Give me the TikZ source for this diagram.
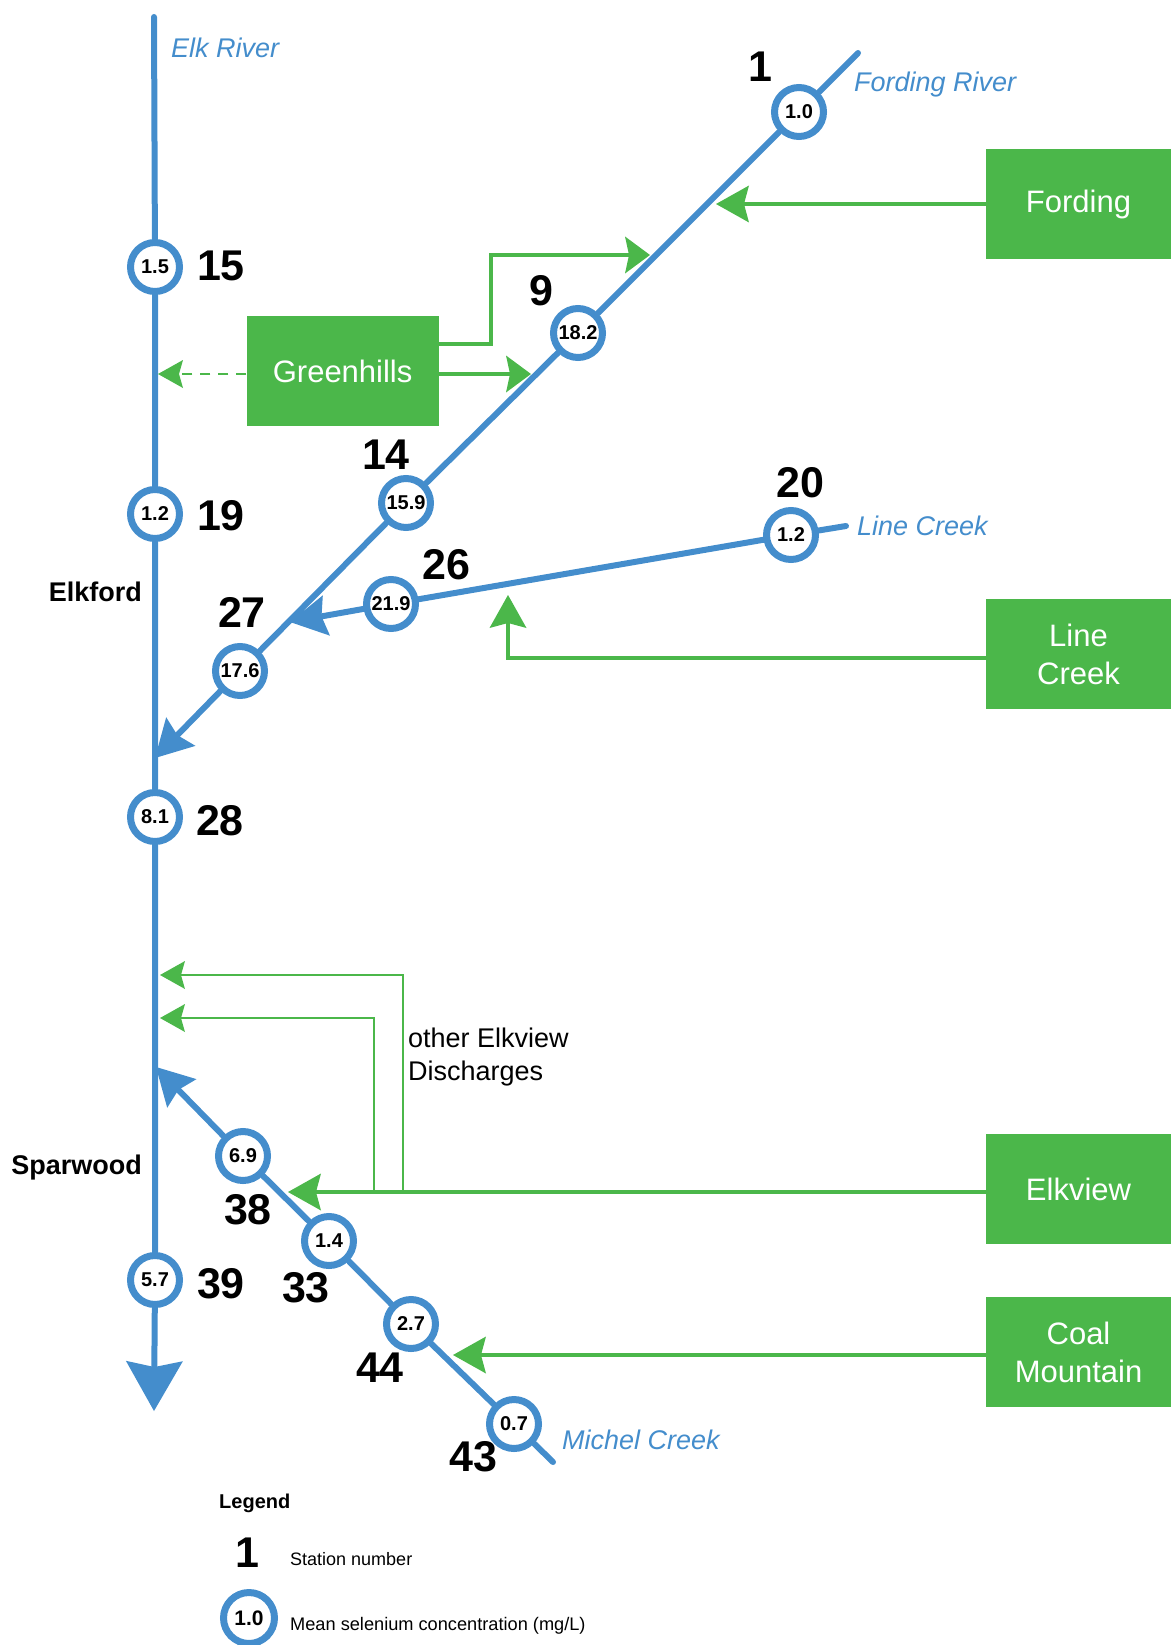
\documentclass[tikz,border=0pt]{standalone}
\usepackage{fontspec}
\setmainfont{Liberation Sans}
\usetikzlibrary{arrows.meta}
\definecolor{riverblue}{RGB}{68,141,204}
\definecolor{minegreen}{RGB}{75,183,74}
\tikzset{
  river/.style={draw=riverblue, line width=6pt, line cap=round},
  flow/.style={river, -{Stealth[length=37pt, width=41pt, inset=5pt, line width=0pt]}},
  mainflow/.style={river, -{Stealth[length=50pt, width=57pt, inset=6pt, line width=0pt]}},
  station/.style={circle, draw=riverblue, line width=7pt, fill=white, minimum size=49pt, inner sep=0pt, font=\fontsize{20}{20}\selectfont\bfseries},
  stnum/.style={inner sep=0pt, font=\fontsize{43}{43}\selectfont\bfseries},
  rivername/.style={anchor=base west, inner sep=0pt, text=riverblue, font=\fontsize{27}{27}\selectfont\itshape},
  town/.style={anchor=base east, inner sep=0pt, font=\fontsize{27}{27}\selectfont\bfseries},
  minebox/.style={fill=minegreen, text=white, minimum width=185pt, minimum height=110pt, align=center, font=\fontsize{31}{38}\selectfont},
  discharge/.style={draw=minegreen, line width=4.5pt, -{Stealth[length=33pt, width=37pt, inset=5pt, line width=0pt]}},
  ghdis/.style={draw=minegreen, line width=4.5pt, -{Stealth[length=25pt, width=37pt, inset=4pt, line width=0pt]}},
  thindis/.style={draw=minegreen, line width=2.7pt, -{Stealth[length=25pt, width=28pt, inset=4pt, line width=0pt]}},
  dashdis/.style={thindis, dash pattern=on 10pt off 8pt}
}
\begin{document}
\begin{tikzpicture}[x=1pt, y=-1pt]
\useasboundingbox (0,0) rectangle (1171,1645);

% Elk River stations
\node[station] (s15) at (155,267) {1.5};
\node[station] (s19) at (155,514) {1.2};
\node[station] (s28) at (155,817) {8.1};
\node[station] (s39) at (155,1280) {5.7};
\coordinate (elktop) at (154,17);
\coordinate (elkend) at (154,1411);
\coordinate (fordmouth) at (155,758);
\coordinate (michmouth) at (156,1067);

% Fording River stations
\node[station] (s1) at (799,112) {1.0};
\node[station] (s9) at (578,333) {18.2};
\node[station] (s14) at (406,503) {15.9};
\node[station] (s27) at (240,671) {17.6};
\coordinate (fordtop) at (858,53);

% Line Creek stations
\node[station] (s20) at (791,535) {1.2};
\node[station] (s26) at (391,604) {21.9};
\coordinate (linetop) at (846,526);
\coordinate (linemouth) at (290,622);

% Michel Creek stations
\node[station] (s43) at (514,1424) {0.7};
\node[station] (s44) at (411,1324) {2.7};
\node[station] (s33) at (329,1241) {1.4};
\node[station] (s38) at (243,1156) {6.9};
\coordinate (michtop) at (553,1462);

% rivers
\draw[river] (elktop) -- (s15) -- (s19) -- (s28) -- (s39);
\draw[mainflow] (s39) -- (elkend);
\draw[river] (fordtop) -- (s1) -- (s9) -- (s14) -- (s27);
\draw[flow] (s27) -- (fordmouth);
\draw[river] (linetop) -- (s20);
\draw[river] (s20) -- (s26);
\draw[flow] (s26) -- (linemouth);
\draw[river] (michtop) -- (s43) -- (s44) -- (s33) -- (s38);
\draw[flow] (s38) -- (michmouth);

% station numbers
\node[stnum] (n15) at (221,266) {15};
\node[stnum] (n19) at (221,516) {19};
\node[stnum] (n28) at (220,821) {28};
\node[stnum] (n39) at (221,1284) {39};
\node[stnum] (n1) at (760,67) {1};
\node[stnum] (n9) at (541,291) {9};
\node[stnum] (n14) at (386,455) {14};
\node[stnum] (n27) at (242,612) {27};
\node[stnum] (n20) at (800,483) {20};
\node[stnum] (n26) at (446,565) {26};
\node[stnum] (n38) at (248,1210) {38};
\node[stnum] (n33) at (306,1288) {33};
\node[stnum] (n44) at (380,1368) {44};
\node[stnum] (n43) at (473,1457) {43};

% river and town names
\node[rivername] (elkname) at (171,58) {Elk River};
\node[rivername] (fordname) at (854,92) {Fording River};
\node[rivername] (linename) at (857,535) {Line Creek};
\node[rivername] (michname) at (562,1449) {Michel Creek};
\node[town] (elkford) at (142,601) {Elkford};
\node[town] (sparwood) at (142,1174) {Sparwood};

% mines
\node[minebox] (fording) at (1078.5,204) {Fording};
\node[minebox, minimum width=192pt] (greenhills) at (342.6,371) {Greenhills};
\node[minebox] (linecreek) at (1078.5,654) {Line\\Creek};
\node[minebox] (elkview) at (1078.5,1189) {Elkview};
\node[minebox] (coalmtn) at (1078.5,1352) {Coal\\Mountain};

% discharges
\coordinate (fordin) at (716,204);
\coordinate (ghbend) at (491,255);
\coordinate (ghin1) at (650,255);
\coordinate (ghin2) at (531,374);
\coordinate (ghout) at (158,374);
\coordinate (lcin) at (508,595);
\coordinate (evin) at (288,1192);
\coordinate (evtap1) at (403,1192);
\coordinate (evtap2) at (374,1192);
\coordinate (evout1) at (160,975);
\coordinate (evout2) at (160,1018);
\coordinate (cmin) at (453,1355);
\draw[discharge] (fording) -- (fordin);
\draw[ghdis] ([yshift=27pt]greenhills.east) -| (ghbend) -- (ghin1);
\draw[ghdis] ([yshift=-3pt]greenhills.east) -- (ghin2);
\draw[dashdis] ([yshift=-3pt]greenhills.west) -- (ghout);
\draw[discharge] ([yshift=-4pt]linecreek.west) -| (lcin);
\draw[thindis] (evtap1) |- (evout1);
\draw[thindis] (evtap2) |- (evout2);
\draw[discharge] ([yshift=-3pt]elkview.west) -- (evin);
\draw[discharge] ([yshift=-3pt]coalmtn.west) -- (cmin);
\node[anchor=west, align=left, inner sep=0pt, font=\fontsize{27}{33}\selectfont] (other) at (408,1057) {other Elkview\\Discharges};

% legend
\node[anchor=base west, inner sep=0pt, font=\fontsize{20}{20}\selectfont\bfseries] (legend) at (219,1508) {Legend};
\node[stnum] (legnum) at (247,1553) {1};
\node[anchor=base west, inner sep=0pt, font=\fontsize{18}{18}\selectfont] (legnumtxt) at (290,1565) {Station number};
\node[station, minimum size=51pt, font=\fontsize{21}{21}\selectfont\bfseries] (legstn) at (249,1618) {1.0};
\node[anchor=base west, inner sep=0pt, font=\fontsize{18.2}{18.2}\selectfont] (legstntxt) at (290,1630) {Mean selenium concentration (mg/L)};
\end{tikzpicture}
\end{document}
